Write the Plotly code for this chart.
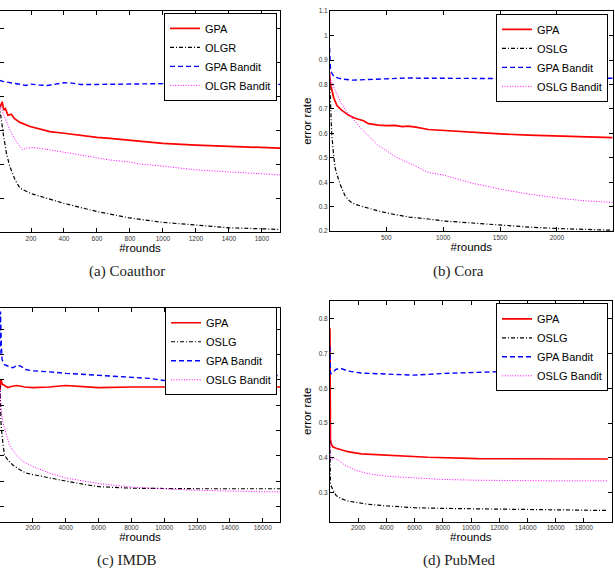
import plotly.graph_objects as go

# ---------------- data ----------------
# (a) Coauthor
a_gpa_x = [1, 5, 15, 25, 35, 45, 60, 80, 100, 133, 194, 250, 315, 400, 497, 600, 679, 800, 921, 1000, 1200, 1400, 1600, 1710]
a_gpa_y = [0.62, 0.58, 0.57, 0.585, 0.56, 0.565, 0.545, 0.548, 0.535, 0.524, 0.512, 0.505, 0.497, 0.492, 0.486, 0.480, 0.477, 0.471, 0.465, 0.462, 0.457, 0.453, 0.450, 0.448]
a_olgr_x = [1, 10, 32, 52, 73, 103, 133, 200, 400, 600, 800, 1000, 1200, 1400, 1600, 1710]
a_olgr_y = [0.60, 0.567, 0.489, 0.430, 0.392, 0.355, 0.330, 0.314, 0.285, 0.261, 0.242, 0.229, 0.220, 0.213, 0.210, 0.208]
a_gpab_x = [1, 10, 30, 60, 100, 150, 170, 200, 250, 300, 350, 400, 450, 500, 600, 700, 800, 900, 1000, 1100, 1200, 1300, 1400, 1500, 1600, 1710]
a_gpab_y = [0.60, 0.648, 0.645, 0.643, 0.640, 0.635, 0.633, 0.637, 0.634, 0.633, 0.637, 0.641, 0.640, 0.636, 0.636, 0.637, 0.638, 0.638, 0.638, 0.639, 0.639, 0.639, 0.638, 0.638, 0.637, 0.636]
a_olgrb_x = [5, 32, 73, 113, 150, 170, 215, 315, 400, 497, 600, 679, 800, 860, 1000, 1200, 1400, 1600, 1710]
a_olgrb_y = [0.582, 0.547, 0.500, 0.465, 0.443, 0.448, 0.450, 0.443, 0.436, 0.427, 0.419, 0.413, 0.407, 0.401, 0.395, 0.384, 0.378, 0.372, 0.369]

# (b) Cora
b_gpa_x = [1, 5, 15, 37, 66, 107, 166, 225, 300, 342, 430, 500, 576, 640, 693, 760, 869, 1000, 1250, 1500, 1750, 2000, 2250, 2490]
b_gpa_y = [0.85, 0.815, 0.79, 0.747, 0.714, 0.695, 0.675, 0.662, 0.652, 0.640, 0.634, 0.632, 0.633, 0.628, 0.630, 0.626, 0.616, 0.612, 0.603, 0.598, 0.593, 0.590, 0.587, 0.583]
b_oslg_x = [1, 5, 10, 20, 37, 50, 67, 96, 137, 180, 225, 330, 450, 576, 700, 869, 1000, 1300, 1500, 1750, 2000, 2250, 2490]
b_oslg_y = [0.83, 0.78, 0.71, 0.60, 0.51, 0.46, 0.43, 0.39, 0.345, 0.322, 0.31, 0.295, 0.28, 0.268, 0.258, 0.25, 0.242, 0.232, 0.224, 0.217, 0.211, 0.207, 0.204]
b_gpab_x = [1, 5, 10, 20, 40, 80, 120, 200, 250, 300, 400, 500, 600, 700, 800, 1000, 1200, 1500, 1800, 2000, 2200, 2490]
b_gpab_y = [0.95, 0.90, 0.86, 0.848, 0.832, 0.826, 0.822, 0.818, 0.819, 0.821, 0.822, 0.822, 0.825, 0.827, 0.826, 0.825, 0.824, 0.824, 0.824, 0.825, 0.825, 0.826]
b_oslgb_x = [1, 10, 37, 96, 150, 213, 280, 342, 430, 500, 576, 740, 869, 1000, 1250, 1500, 1750, 2000, 2250, 2490]
b_oslgb_y = [0.85, 0.82, 0.79, 0.73, 0.69, 0.655, 0.62, 0.59, 0.55, 0.53, 0.505, 0.47, 0.44, 0.43, 0.397, 0.372, 0.352, 0.336, 0.324, 0.318]

# (c) IMDB
c_gpa_x = [1, 60, 128, 270, 474, 680, 1000, 1200, 1500, 2000, 3000, 4000, 5000, 6000, 8000, 10000, 12000, 14000, 16000, 17050]
c_gpa_y = [0.38, 0.401, 0.392, 0.389, 0.385, 0.387, 0.389, 0.388, 0.386, 0.385, 0.386, 0.389, 0.387, 0.385, 0.386, 0.386, 0.386, 0.386, 0.386, 0.386]
c_oslg_x = [1, 30, 67, 168, 270, 474, 778, 1185, 1591, 1998, 3014, 4032, 5046, 6063, 8097, 10000, 12000, 14000, 16000, 17050]
c_oslg_y = [0.39, 0.36, 0.31, 0.278, 0.252, 0.242, 0.232, 0.223, 0.216, 0.213, 0.206, 0.200, 0.194, 0.189, 0.186, 0.185, 0.185, 0.185, 0.185, 0.185]
c_gpab_x = [1, 30, 80, 128, 270, 474, 778, 1083, 1287, 1490, 1998, 3014, 4032, 6063, 8097, 9112, 9940, 12000, 14000, 16000, 17050]
c_gpab_y = [0.45, 0.535, 0.47, 0.44, 0.430, 0.427, 0.424, 0.429, 0.427, 0.421, 0.418, 0.416, 0.413, 0.409, 0.405, 0.403, 0.399, 0.401, 0.405, 0.408, 0.409]
c_oslgb_x = [1, 30, 67, 168, 372, 575, 982, 1388, 1998, 3014, 4032, 5046, 6063, 8097, 9112, 10500, 12000, 14000, 16000, 17050]
c_oslgb_y = [0.39, 0.37, 0.343, 0.317, 0.291, 0.271, 0.252, 0.239, 0.229, 0.216, 0.206, 0.200, 0.195, 0.188, 0.186, 0.184, 0.182, 0.180, 0.179, 0.179]

# (d) PubMed
d_gpa_x = [1, 20, 38, 100, 203, 440, 800, 1267, 2217, 4577, 6940, 10487, 12000, 14000, 16000, 18000, 19700]
d_gpa_y = [0.773, 0.55, 0.452, 0.44, 0.432, 0.428, 0.424, 0.418, 0.412, 0.406, 0.402, 0.398, 0.398, 0.397, 0.397, 0.397, 0.397]
d_oslg_x = [1, 10, 38, 203, 440, 797, 1267, 1740, 2686, 4105, 5995, 8123, 10487, 12000, 14000, 16000, 18000, 19700]
d_oslg_y = [0.45, 0.35, 0.324, 0.309, 0.292, 0.283, 0.276, 0.273, 0.267, 0.262, 0.257, 0.255, 0.254, 0.253, 0.252, 0.251, 0.250, 0.249]
d_gpab_x = [1, 38, 203, 440, 797, 1267, 2217, 3986, 5995, 8123, 10250, 12000, 14000, 16000, 18000, 19700]
d_gpab_y = [0.72, 0.641, 0.646, 0.655, 0.657, 0.650, 0.644, 0.641, 0.638, 0.643, 0.646, 0.648, 0.646, 0.645, 0.644, 0.644]
d_oslgb_x = [1, 20, 85, 322, 558, 1030, 1740, 2686, 4105, 5995, 8123, 10487, 12000, 14000, 16000, 18000, 19700]
d_oslgb_y = [0.49, 0.41, 0.395, 0.399, 0.395, 0.380, 0.366, 0.355, 0.347, 0.342, 0.338, 0.336, 0.335, 0.335, 0.334, 0.334, 0.334]

panels = [
    dict(names=["GPA", "OLGR", "GPA Bandit", "OLGR Bandit"],
         series=[(a_gpa_x, a_gpa_y), (a_olgr_x, a_olgr_y), (a_gpab_x, a_gpab_y), (a_olgrb_x, a_olgrb_y)],
         caption="(a) Coauthor"),
    dict(names=["GPA", "OSLG", "GPA Bandit", "OSLG Bandit"],
         series=[(b_gpa_x, b_gpa_y), (b_oslg_x, b_oslg_y), (b_gpab_x, b_gpab_y), (b_oslgb_x, b_oslgb_y)],
         caption="(b) Cora"),
    dict(names=["GPA", "OSLG", "GPA Bandit", "OSLG Bandit"],
         series=[(c_gpa_x, c_gpa_y), (c_oslg_x, c_oslg_y), (c_gpab_x, c_gpab_y), (c_oslgb_x, c_oslgb_y)],
         caption="(c) IMDB"),
    dict(names=["GPA", "OSLG", "GPA Bandit", "OSLG Bandit"],
         series=[(d_gpa_x, d_gpa_y), (d_oslg_x, d_oslg_y), (d_gpab_x, d_gpab_y), (d_oslgb_x, d_oslgb_y)],
         caption="(d) PubMed"),
]

x_ticks = [
    [200, 400, 600, 800, 1000, 1200, 1400, 1600],
    [500, 1000, 1500, 2000],
    [2000, 4000, 6000, 8000, 10000, 12000, 14000, 16000],
    [2000, 4000, 6000, 8000, 10000, 12000, 14000, 16000, 18000],
]
y_ticks = [
    [0.2, 0.3, 0.4, 0.5, 0.6, 0.7, 0.8],
    [0.2, 0.3, 0.4, 0.5, 0.6, 0.7, 0.8, 0.9, 1.0, 1.1],
    [0.15, 0.2, 0.25, 0.3, 0.35, 0.4, 0.45, 0.5],
    [0.3, 0.4, 0.5, 0.6, 0.7, 0.8],
]
y_tick_text = [
    None,
    ["0.2", "0.3", "0.4", "0.5", "0.6", "0.7", "0.8", "0.9", "1", "1.1"],
    None,
    ["0.3", "0.4", "0.5", "0.6", "0.7", "0.8"],
]

# ---------------- style / layout ----------------
W, H = 615, 576
styles = [
    dict(color="#ff0000", width=1.7, dash="solid"),
    dict(color="#000000", width=1.2, dash="4px,2px,1px,2px"),
    dict(color="#0000ff", width=1.4, dash="5px,3px"),
    dict(color="#ff00ff", width=1.0, dash="1px,1.6px"),
]
# plot boxes in pixels: left, right, top, bottom
boxes = [(0, 280, 7, 231), (330, 612.7, 7.3, 230), (0, 280, 307.3, 524), (330, 611.7, 300.7, 524)]
x_ranges = [[12, 1710], [5, 2490], [1, 17050], [5, 19970]]
y_ranges = [[0.2, 0.853], [0.2, 1.1], [0.12, 0.543], [0.217, 0.851]]
show_ylabels = [False, True, False, True]
legend_pos = [(277, 9), (608, 10), (277, 307), (608, 303)]
caption_pos = [(127, 271), (458, 271), (127, 563), (459, 563)]

SANS = "Liberation Sans, Arial, sans-serif"
fig = go.Figure()
layout = dict(
    width=W, height=H, margin=dict(l=0, r=0, t=0, b=0),
    paper_bgcolor="white", plot_bgcolor="white", showlegend=True,
    font=dict(family=SANS, color="#000"),
    annotations=[],
)

for i, p in enumerate(panels):
    k = "" if i == 0 else str(i + 1)
    leg = "legend" if i == 0 else "legend%d" % (i + 1)
    for (xs, ys), name, st in zip(p["series"], p["names"], styles):
        fig.add_trace(go.Scatter(
            x=xs, y=ys, mode="lines", name=name,
            line=dict(color=st["color"], width=st["width"], dash=st["dash"]),
            xaxis="x" + k, yaxis="y" + k, legend=leg, hoverinfo="skip",
        ))
    l, r, t, b = boxes[i]
    axis_common = dict(
        showgrid=False, zeroline=False, showline=True, linecolor="#000", linewidth=1,
        mirror="ticks", ticks="inside", ticklen=4, tickcolor="#000", tickwidth=0.8,
        tickfont=dict(family=SANS, size=6.5, color="#333"),
    )
    layout["xaxis" + k] = dict(
        axis_common, domain=[l / W, r / W], range=x_ranges[i], anchor="y" + k,
        tickvals=x_ticks[i], ticktext=[str(v) for v in x_ticks[i]],
        title=dict(text="#rounds", font=dict(family=SANS, size=11.5, color="#000"), standoff=2),
    )
    ya = dict(
        axis_common, domain=[1 - b / H, 1 - t / H], range=y_ranges[i], anchor="x" + k,
        tickvals=y_ticks[i], showticklabels=show_ylabels[i],
    )
    if y_tick_text[i] is not None:
        ya["ticktext"] = y_tick_text[i]
    if show_ylabels[i]:
        ya["title"] = dict(text="error rate", font=dict(family=SANS, size=11.5, color="#000"), standoff=4)
    layout["yaxis" + k] = ya
    lx, ly = legend_pos[i]
    layout[leg] = dict(
        x=lx / W, y=1 - ly / H, xanchor="right", yanchor="top",
        xref="paper", yref="paper",
        bgcolor="white", bordercolor="#000", borderwidth=1,
        font=dict(family=SANS, size=11, color="#000"),
        itemwidth=30, tracegroupgap=0,
    )
    cx, cy = caption_pos[i]
    layout["annotations"].append(dict(
        text=p["caption"], x=cx / W, y=1 - cy / H, xref="paper", yref="paper",
        xanchor="center", yanchor="middle", showarrow=False,
        font=dict(family="Liberation Serif, Times New Roman, serif", size=15, color="#222"),
    ))

fig.update_layout(**layout)
fig.write_html("out.html")
